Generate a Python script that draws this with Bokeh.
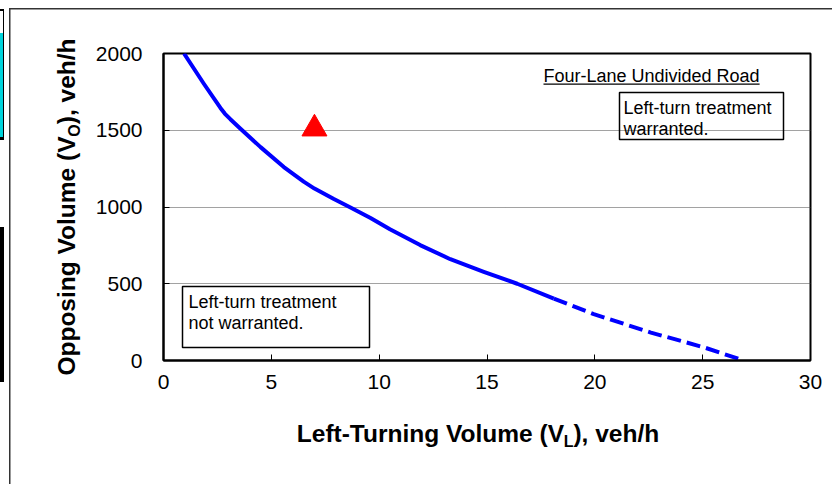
import math
from bokeh.plotting import figure
from bokeh.models import Range1d, Label, BoxAnnotation, FixedTicker
from bokeh.embed import file_html
from bokeh.resources import INLINE

# ---------------- data ----------------
solid_vl = [0.95, 1.87, 2.64, 2.85, 3.1, 3.57, 4.5, 5.58, 6.5, 7.0, 7.9, 8.67, 9.6,
            10.5, 11.9, 13.3, 14.85, 16.4, 18.1]
solid_vo = [2000, 1803, 1645, 1607, 1572, 1510, 1390, 1260, 1165, 1120, 1052, 997, 928,
            855, 752, 660, 578, 500, 403]
dashed_vl = [18.1, 19.95, 22.6, 25.05, 26.9]
dashed_vo = [403, 302, 182, 86, 0]
point_vl = [7.0]
point_vo = [1510]
x_ticks = [0, 5, 10, 15, 20, 25, 30]
y_ticks = [0, 500, 1000, 1500, 2000]
grid_vo = [500, 1000, 1500]

X_MIN, X_MAX = 0, 30
Y_MIN, Y_MAX = 0, 2000

# ---------------- layout constants (page pixels) ----------------
W, H = 832, 484
FL, FR, FT, FB = 163, 810, 53, 360
FONT = "Liberation Sans"


def dx(px):
    return X_MIN + (px - FL) * (X_MAX - X_MIN) / (FR - FL)


def dy(py):
    return Y_MIN + (FB - py) * (Y_MAX - Y_MIN) / (FB - FT)


ARIAL_BOLD = {'O': 778, 'p': 611, 'o': 611, 's': 556, 'i': 278, 'n': 611, 'g': 611,
              ' ': 278, 'V': 667, 'l': 278, 'u': 611, 'm': 889, 'e': 556, '(': 333,
              ')': 333, ',': 278, 'v': 556, 'h': 611, '/': 278, 'L': 611, 'f': 333,
              't': 333, '-': 333, 'T': 611, 'r': 389}
ARIAL = {'F': 611, 'o': 556, 'u': 556, 'r': 333, '-': 333, 'L': 556, 'a': 556,
         'n': 556, 'e': 556, ' ': 278, 'U': 722, 'd': 556, 'i': 222, 'v': 500, 'R': 722}


def tw(s, size, table):
    return sum(table.get(c, 556) for c in s) * size / 1000.0


page_bg = ", ".join([
    "linear-gradient(#fff,#fff) 0px 11px / 3px 22px no-repeat",
    "linear-gradient(#00d4dc,#00d4dc) 0px 33px / 3px 104px no-repeat",
    "linear-gradient(#000,#000) 0px 9px / 4px 131px no-repeat",
    "linear-gradient(#000,#000) 0px 227px / 4px 155px no-repeat",
    "linear-gradient(#333,#333) 9px 8px / 1.5px 476px no-repeat",
    "linear-gradient(#333,#333) 9px 8px / 823px 1.5px no-repeat",
    "#fff",
])

p = figure(width=W, height=H, output_backend="svg", toolbar_location=None,
           x_range=Range1d(X_MIN, X_MAX), y_range=Range1d(Y_MIN, Y_MAX),
           min_border_left=FL, min_border_right=W - FR,
           min_border_top=FT, min_border_bottom=H - FB,
           background_fill_color="white", border_fill_color=None,
           styles={"background": page_bg})
p.title.visible = False

# frame
p.outline_line_color = "black"
p.outline_line_width = 2
p.outline_line_alpha = 1

# axes
for ax in (p.xaxis[0], p.yaxis[0]):
    ax.axis_line_color = "black"
    ax.axis_line_width = 2
    ax.major_tick_in = 6
    ax.major_tick_out = 0
    ax.major_tick_line_color = "black"
    ax.major_tick_line_width = 1
    ax.minor_tick_line_color = None
    ax.major_label_text_font = FONT
    ax.major_label_text_font_size = "21px"
    ax.major_label_text_color = "black"
p.xaxis[0].ticker = FixedTicker(ticks=x_ticks)
p.yaxis[0].ticker = FixedTicker(ticks=y_ticks)
p.xaxis[0].major_label_standoff = 14
p.yaxis[0].major_label_standoff = 21

# grid
p.xgrid.grid_line_color = None
p.ygrid.ticker = FixedTicker(ticks=grid_vo)
p.ygrid.grid_line_color = "#444444"
p.ygrid.grid_line_dash = "1 1"
p.ygrid.grid_line_width = 1

# curve
p.line(solid_vl, solid_vo, line_color="#0000FF", line_width=4, line_join="round")
p.line(dashed_vl, dashed_vo, line_color="#0000FF", line_width=4,
       line_dash="14 6")
p.scatter(point_vl, point_vo, marker="triangle", size=25,
          fill_color="#FF0000", line_color="#FF0000")

# ---------------- texts ----------------
AX_SIZE = 24.5
SUB_SIZE = 16
SUB_SHIFT = 5
MID = 0.35  # baseline -> middle offset, in em

# y-axis title (rotated), pieces with subscript
y_part1, y_sub, y_part3 = "Opposing Volume (V", "O", "), veh/h"
w1 = tw(y_part1, AX_SIZE, ARIAL_BOLD) - 2
ws = tw(y_sub, SUB_SIZE, ARIAL_BOLD)
w3 = tw(y_part3, AX_SIZE, ARIAL_BOLD)
ycen, ybase = 206.5, 75
start = ycen + (w1 + ws + w3) / 2.0
for txt, size, off, shift in ((y_part1, AX_SIZE, 0, 0),
                             (y_sub, SUB_SIZE, w1, SUB_SHIFT),
                             (y_part3, AX_SIZE, w1 + ws, 0)):
    p.add_layout(Label(x=dx(ybase + shift - MID * size), y=dy(start - off), text=txt,
                       angle=math.pi / 2, text_align="left",
                       text_baseline="middle", text_font=FONT,
                       text_font_size=f"{size}px", text_font_style="bold",
                       text_color="black"), "left")

# x-axis title
x_part1, x_sub, x_part3 = "Left-Turning Volume (V", "L", "), veh/h"
w1 = tw(x_part1, AX_SIZE, ARIAL_BOLD) - 4
ws = tw(x_sub, SUB_SIZE, ARIAL_BOLD)
w3 = tw(x_part3, AX_SIZE, ARIAL_BOLD)
xcen, xbase = 477.5, 441.7
start = xcen - (w1 + ws + w3) / 2.0
for txt, size, off, shift, side in ((x_part1, AX_SIZE, 0, 0, "below"),
                                   (x_sub, SUB_SIZE, w1, SUB_SHIFT, "below"),
                                   (x_part3, AX_SIZE, w1 + ws, 0, "above")):
    p.add_layout(Label(x=dx(start + off), y=dy(xbase + shift - MID * size), text=txt,
                       text_align="left", text_baseline="middle",
                       text_font=FONT, text_font_size=f"{size}px",
                       text_font_style="bold", text_color="black"), side)

# road type caption (underlined)
NOTE = 18
road = "Four-Lane Undivided Road"
road_left, road_mid = 543, 75
p.add_layout(Label(x=dx(road_left), y=dy(road_mid), text=road,
                   text_align="left", text_baseline="middle",
                   text_font=FONT, text_font_size=f"{NOTE}px", text_color="black"))
road_w = tw(road, NOTE, ARIAL)
p.add_layout(BoxAnnotation(left=dx(road_left), right=dx(road_left + road_w),
                           top=dy(83), bottom=dy(84.2),
                           fill_color="black", fill_alpha=1, line_color=None))

# region boxes
boxes = [
    (619, 783, 92, 139, 623, [107, 128], ["Left-turn treatment", "warranted."]),
    (182, 369, 286, 347, 188, [301, 322], ["Left-turn treatment", "not warranted."]),
]
for l, r, t, b, tx, mids, lines in boxes:
    p.add_layout(BoxAnnotation(left=dx(l), right=dx(r), top=dy(t), bottom=dy(b),
                               fill_color=None, line_color="black", line_width=1.5,
                               line_alpha=1))
    for mid, txt in zip(mids, lines):
        p.add_layout(Label(x=dx(tx), y=dy(mid), text=txt, text_align="left",
                           text_baseline="middle", text_font=FONT,
                           text_font_size=f"{NOTE}px", text_color="black"))

open("out.html", "w").write(file_html(p, INLINE))
